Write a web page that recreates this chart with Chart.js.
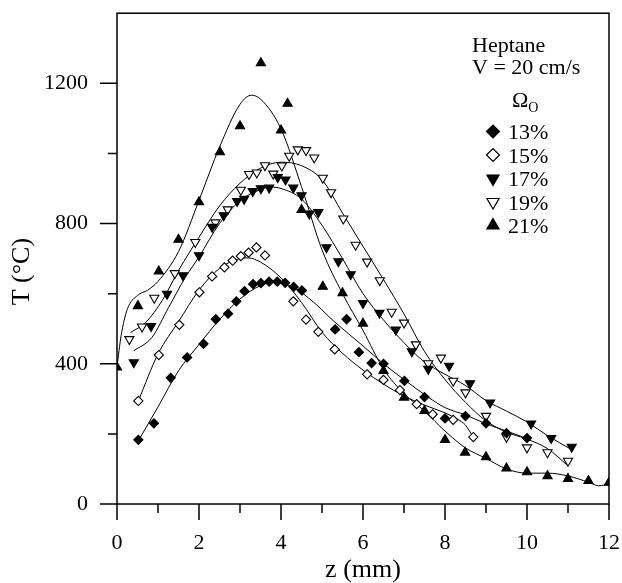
<!DOCTYPE html>
<html>
<head>
<meta charset="utf-8">
<script src="https://cdn.jsdelivr.net/npm/chart.js@4.4.1/dist/chart.umd.min.js"></script>
<style>
  html, body { margin: 0; padding: 0; background: #fff; }
  #wrap { width: 622px; height: 583px; }
</style>
</head>
<body>
<div id="wrap"><canvas id="chart" width="622" height="583"></canvas></div>
<script>
// measured temperatures, z in mm, T in degC
const seriesNames = ["13%", "15%", "17%", "19%", "21%"];

const z13 = [0.52, 0.9, 1.31, 1.71, 2.11, 2.41, 2.71, 2.91, 3.11, 3.32, 3.51, 3.71, 3.91, 4.1, 4.31, 4.51, 5.32, 5.6, 5.9, 6.21, 6.5, 7.01, 7.5, 8.0, 8.5, 9.0, 9.5, 10.0];
const t13 = [183, 230, 360, 418, 457, 527, 543, 578, 607, 627, 630, 634, 634, 631, 619, 609, 498, 527, 433, 402, 400, 351, 305, 244, 251, 230, 202, 188];

const z15 = [0.52, 1.02, 1.52, 2.01, 2.32, 2.62, 2.82, 3.02, 3.21, 3.4, 3.61, 4.3, 4.61, 4.91, 5.31, 6.1, 6.5, 6.9, 7.31, 7.7, 8.2, 8.69];
const t15 = [294, 425, 511, 604, 649, 675, 694, 707, 717, 732, 709, 578, 526, 491, 441, 370, 354, 325, 285, 256, 240, 191];

const z17 = [0.41, 0.83, 1.22, 1.61, 2.0, 2.32, 2.6, 2.93, 3.1, 3.31, 3.51, 3.71, 3.92, 4.11, 4.3, 4.5, 4.69, 4.91, 5.11, 5.4, 5.7, 6.0, 6.4, 6.8, 7.19, 7.59, 8.1, 8.61, 9.1, 10.1, 10.59, 11.09];
const t17 = [404, 507, 599, 652, 709, 790, 823, 864, 870, 892, 900, 902, 932, 925, 902, 880, 828, 832, 732, 692, 655, 573, 545, 497, 435, 385, 394, 344, 289, 229, 188, 163];

const z19 = [0.3, 0.61, 0.91, 1.41, 1.91, 2.4, 2.7, 3.02, 3.22, 3.41, 3.61, 3.81, 4.02, 4.2, 4.41, 4.61, 4.81, 5.02, 5.22, 5.52, 5.82, 6.1, 6.41, 6.7, 7.0, 7.29, 7.59, 7.9, 8.2, 8.5, 9.0, 9.5, 10.0, 10.5, 11.0];
const t19 = [470, 506, 588, 658, 747, 803, 840, 896, 941, 945, 966, 942, 965, 993, 1011, 1009, 988, 930, 889, 814, 739, 691, 638, 548, 517, 455, 401, 417, 351, 318, 251, 191, 161, 147, 123];

const z21 = [0, 0.51, 1.02, 1.5, 2.0, 2.51, 3.0, 3.51, 4.0, 4.16, 4.5, 5.02, 5.5, 6.0, 6.5, 7.0, 7.5, 8.0, 8.49, 9.0, 9.5, 10.0, 10.5, 11.0, 11.5, 12.0];
const t21 = [390, 565, 664, 754, 861, 1004, 1078, 1258, 1066, 1142, 839, 620, 602, 515, 380, 304, 266, 183, 147, 134, 102, 91, 80, 72, 66, 61];

// smoothed fit curves
const fitZ13 = [0.52, 1.0, 1.5, 2.0, 2.5, 3.0, 3.5, 3.8, 4.3, 4.8, 5.3, 6.0, 6.5, 7.0, 7.6, 8.0, 8.5, 9.0, 9.5, 10.0];
const fitT13 = [180, 277, 380, 455, 526, 585, 623, 632, 618, 575, 520, 451, 400, 355, 304, 275, 254, 229, 208, 187];

const fitZ15 = [0.52, 1.0, 1.5, 2.0, 2.5, 3.0, 3.2, 3.5, 4.0, 4.5, 5.0, 5.5, 6.0, 6.5, 7.0, 7.5, 8.0, 8.3, 8.5, 8.69];
const fitT15 = [294, 428, 520, 610, 672, 700, 702, 690, 645, 575, 490, 430, 382, 342, 308, 282, 260, 242, 225, 190];

const fitZ17 = [0.41, 0.85, 1.26, 1.67, 2.0, 2.5, 3.0, 3.5, 3.75, 4.0, 4.5, 5.0, 5.5, 6.0, 6.5, 7.0, 7.5, 8.0, 8.5, 9.0, 9.5, 10.0, 10.5, 11.09];
const fitT17 = [437, 475, 561, 647, 705, 800, 865, 897, 904, 900, 870, 795, 700, 600, 525, 460, 405, 370, 338, 295, 265, 234, 195, 155];

const fitZ19 = [0.33, 0.7, 1.1, 1.5, 2.0, 2.5, 3.0, 3.5, 4.0, 4.5, 5.0, 5.5, 6.0, 6.5, 7.0, 7.5, 8.0, 8.5, 9.0, 9.5, 10.0, 10.5, 11.0];
const fitT19 = [489, 518, 580, 666, 761, 850, 915, 958, 975, 965, 925, 830, 735, 640, 542, 435, 355, 290, 237, 205, 185, 158, 109];

const fitZ21 = [0, 0.1, 0.25, 0.5, 0.75, 1.0, 1.5, 2.0, 2.5, 3.0, 3.28, 3.5, 4.0, 4.5, 5.0, 5.5, 6.0, 6.5, 7.0, 7.5, 8.0, 8.5, 9.0, 9.5, 10.0, 10.5, 11.0, 11.5, 11.75, 12.0];
const fitT21 = [390, 480, 555, 595, 610, 635, 720, 866, 1018, 1140, 1166, 1155, 1070, 905, 725, 600, 495, 385, 315, 265, 208, 160, 130, 100, 88, 88, 80, 62, 52, 57];

const xLabelValues = [0, 2, 4, 6, 8, 10, 12];
const yLabelValues = [0, 400, 800, 1200];
const legendHeader = ["Heptane", "V = 20 cm/s"];

const FONT = '"Liberation Serif", "Times New Roman", serif';
Chart.defaults.font.family = FONT;
Chart.defaults.color = "#000";

const pts = (xs, ys) => xs.map((x, i) => ({ x: x, y: ys[i] }));

// marker look per series
const markers = [
  { style: "rectRot", rotation: 0, radius: 4.6, fill: "#000" },
  { style: "rectRot", rotation: 0, radius: 4.6, fill: "#fff" },
  { style: "triangle", rotation: 180, radius: 5.3, fill: "#000" },
  { style: "triangle", rotation: 180, radius: 5.3, fill: "#fff" },
  { style: "triangle", rotation: 0, radius: 5.3, fill: "#000" }
];

const measured = [pts(z13, t13), pts(z15, t15), pts(z17, t17), pts(z19, t19), pts(z21, t21)];
const fits = [pts(fitZ13, fitT13), pts(fitZ15, fitT15), pts(fitZ17, fitT17), pts(fitZ19, fitT19), pts(fitZ21, fitT21)];

const datasets = [];
measured.forEach((d, i) => {
  datasets.push({
    label: seriesNames[i],
    data: d,
    showLine: false,
    order: 0,
    pointStyle: markers[i].style,
    rotation: markers[i].rotation,
    pointRadius: markers[i].radius,
    pointBackgroundColor: markers[i].fill,
    pointBorderColor: "#000",
    pointBorderWidth: 1.1
  });
});
fits.forEach((d, i) => {
  datasets.push({
    label: seriesNames[i] + " fit",
    data: d,
    showLine: true,
    order: 1,
    borderColor: "#000",
    borderWidth: 1,
    pointRadius: 0,
    cubicInterpolationMode: "monotone",
    fill: false
  });
});

// box round the plot and outward ticks, long at labelled values
const frameTicks = {
  id: "frameTicks",
  afterDraw(chart) {
    const { ctx, chartArea: a, scales: { x, y } } = chart;
    ctx.save();
    ctx.strokeStyle = "#000";
    ctx.lineWidth = 1.5;
    ctx.strokeRect(a.left, a.top, a.right - a.left, a.bottom - a.top);
    ctx.beginPath();
    x.ticks.forEach(t => {
      const px = x.getPixelForValue(t.value);
      const len = xLabelValues.includes(t.value) ? 16 : 9;
      ctx.moveTo(px, a.bottom);
      ctx.lineTo(px, a.bottom + len);
    });
    y.ticks.forEach(t => {
      if (t.value >= y.max) return;
      const py = y.getPixelForValue(t.value);
      const len = yLabelValues.includes(t.value) ? 17 : 9;
      ctx.moveTo(a.left, py);
      ctx.lineTo(a.left - len, py);
    });
    ctx.stroke();
    ctx.restore();
  }
};

// legend block in the upper right corner
const sideLegend = {
  id: "sideLegend",
  afterDraw(chart) {
    const ctx = chart.ctx;
    ctx.save();
    ctx.fillStyle = "#000";
    ctx.textBaseline = "alphabetic";
    ctx.textAlign = "left";
    ctx.font = "22px " + FONT;
    ctx.fillText(legendHeader[0], 472, 51.5);
    ctx.fillText(legendHeader[1], 472, 74);
    ctx.fillText("Ω", 512, 107);
    const w = ctx.measureText("Ω").width;
    ctx.font = "14px " + FONT;
    ctx.fillText("O", 512 + w, 112);

    const rowY = [131.5, 155, 178.5, 202, 225.5];
    seriesNames.forEach((name, i) => {
      const m = markers[i];
      ctx.fillStyle = m.fill;
      ctx.strokeStyle = "#000";
      ctx.lineWidth = 1.2;
      Chart.helpers.drawPoint(ctx, {
        pointStyle: m.style,
        rotation: m.rotation,
        radius: m.style === "rectRot" ? 6.5 : 7,
        borderWidth: 1.2
      }, 493, rowY[i]);
      ctx.fillStyle = "#000";
      ctx.font = "22px " + FONT;
      ctx.fillText(name, 508, rowY[i] + 7.5);
    });
    ctx.restore();
  }
};

// label offset comes from an invisible tick length, so it does not add
// to the scale's end padding
const hiddenTicks = len => ({ drawOnChartArea: false, drawTicks: true, tickLength: len, color: "rgba(0,0,0,0)" });

new Chart(document.getElementById("chart").getContext("2d"), {
  type: "scatter",
  data: { datasets: datasets },
  options: {
    responsive: false,
    animation: false,
    devicePixelRatio: 1,
    layout: { padding: { top: 13, right: 13, left: 0, bottom: 0 } },
    plugins: { legend: { display: false }, tooltip: { enabled: false } },
    scales: {
      x: {
        type: "linear",
        min: 0,
        max: 12,
        grid: hiddenTicks(26),
        border: { display: false },
        ticks: {
          stepSize: 1,
          autoSkip: false,
          maxRotation: 0,
          padding: 0,
          font: { size: 22 },
          callback: v => xLabelValues.includes(v) ? String(v) : ""
        },
        title: { display: true, text: "z (mm)", font: { size: 26, lineHeight: 1 }, padding: 0 },
        afterFit: s => { s.height = 79; }
      },
      y: {
        type: "linear",
        min: 0,
        max: 1400,
        grid: hiddenTicks(29),
        border: { display: false },
        ticks: {
          stepSize: 200,
          autoSkip: false,
          padding: 0,
          font: { size: 22 },
          callback: v => yLabelValues.includes(v) ? String(v) : ""
        },
        title: { display: true, text: "T (°C)\u2002\u2002", font: { size: 26, lineHeight: 1 }, padding: { top: 9, bottom: 0 } },
        afterFit: s => { s.width = 117; }
      }
    }
  },
  plugins: [frameTicks, sideLegend]
});
</script>
</body>
</html>
